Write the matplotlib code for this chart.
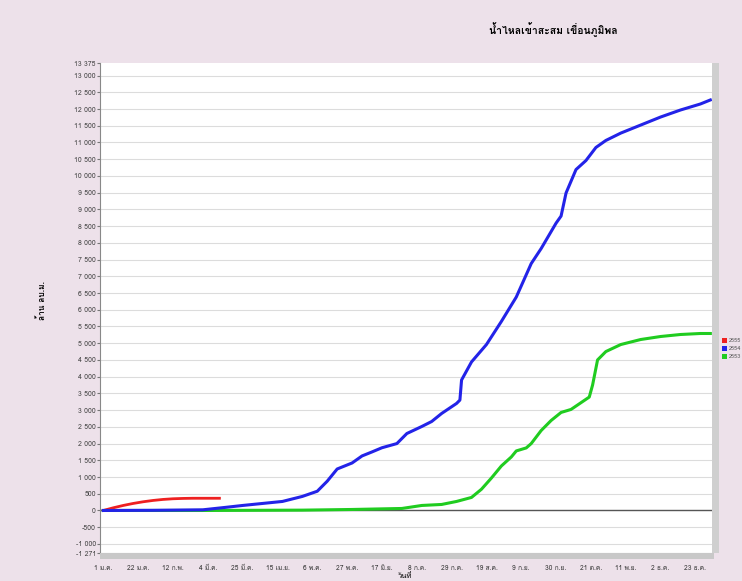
import matplotlib
matplotlib.use("Agg")
import matplotlib.pyplot as plt
from matplotlib import font_manager
from matplotlib.ft2font import FT2Font
from matplotlib.patches import Rectangle

# ---- data ----
title = "น้ำไหลเข้าสะสม เขื่อนภูมิพล"
ylabel = "ล้าน ลบ.ม."
xlabel = "วันที่"
series_names = ["2555", "2554", "2553"]

tick_days = [0, 21, 42, 63, 84, 105, 126, 147, 168, 189, 210, 231, 252, 273, 294, 315, 336, 357]
tick_labels = ["1 ม.ค.", "22 ม.ค.", "12 ก.พ.", "4 มี.ค.", "25 มี.ค.", "15 เม.ย.", "6 พ.ค.", "27 พ.ค.",
               "17 มิ.ย.", "8 ก.ค.", "29 ก.ค.", "19 ส.ค.", "9 ก.ย.", "30 ก.ย.", "21 ต.ค.", "11 พ.ย.",
               "2 ธ.ค.", "23 ธ.ค."]

red_days = [0, 6, 12, 18, 24, 30, 36, 42, 48, 54, 60, 70]
red_vals = [0, 80, 150, 210, 260, 300, 330, 350, 360, 365, 365, 365]

blue_days = [0, 30, 60, 75, 84, 96, 108, 120, 129, 135, 141, 150, 156, 162, 168, 177, 183, 192,
             198, 204, 213, 215, 216, 222, 231, 240, 249, 258, 264, 273, 276, 279, 285, 291, 297,
             303, 312, 324, 336, 348, 360, 366]
blue_vals = [0, 5, 20, 100, 150, 210, 270, 420, 575, 875, 1240, 1420, 1630, 1750, 1875, 2000, 2300,
             2510, 2660, 2900, 3200, 3300, 3900, 4440, 4960, 5650, 6380, 7380, 7830, 8590, 8800, 9490,
             10190, 10460, 10850, 11060, 11280, 11520, 11760, 11970, 12150, 12270]

green_days = [0, 60, 120, 150, 180, 192, 204, 213, 222, 228, 234, 240, 246, 249, 255, 258, 264, 270,
              276, 282, 293, 295, 298, 303, 312, 324, 336, 348, 360, 366]
green_vals = [0, 0, 10, 30, 60, 150, 180, 270, 390, 635, 970, 1330, 1600, 1780, 1870, 2000, 2390,
              2690, 2930, 3020, 3390, 3750, 4500, 4750, 4960, 5110, 5200, 5260, 5290, 5290]

y_ticks = [-1271, -1000, -500, 0, 500, 1000, 1500, 2000, 2500, 3000, 3500, 4000, 4500, 5000, 5500,
           6000, 6500, 7000, 7500, 8000, 8500, 9000, 9500, 10000, 10500, 11000, 11500, 12000, 12500,
           13000, 13375]

# ---- fonts: prefer a Tahoma-like Thai font ----
thai_fams = []
for f in font_manager.fontManager.ttflist:
    try:
        ft = FT2Font(f.fname)
        if ft.get_char_index(0x0E01) != 0 and f.name not in thai_fams:
            thai_fams.append(f.name)
    except Exception:
        pass
pick = [n for n in ["Loma", "Tlwg Typo", "Garuda", "Noto Sans Thai"] if n in thai_fams]
fams = (pick[:1] or thai_fams[:1]) + ["DejaVu Sans"]
plt.rcParams["font.family"] = fams

bg = "#ede1ea"
fig = plt.figure(figsize=(7.42, 5.81), dpi=100, facecolor=bg)
ax = fig.add_axes([100 / 742, 1 - 553 / 581, 612 / 742, 490 / 581])
ax.set_facecolor("white")

for v in range(-1000, 13500, 500):
    ax.axhline(v, color="#dcdcdc", lw=0.8, zorder=0)
ax.axhline(0, color="#555555", lw=1.0, zorder=1)

ax.plot(red_days, red_vals, color="#ee2020", lw=2.0, zorder=3, label=series_names[0])
ax.plot(blue_days, blue_vals, color="#2323e8", lw=2.2, zorder=3, label=series_names[1])
ax.plot(green_days, green_vals, color="#20cc20", lw=2.2, zorder=2, label=series_names[2])

ax.set_xlim(-2, 367)
ax.set_ylim(-1271, 13375)
ax.set_xticks(tick_days)
ax.set_xticklabels(tick_labels, fontsize=4.8, color="#333333")
ax.set_yticks(y_ticks)
ax.set_yticklabels([f"{v:,}".replace(",", " ") for v in y_ticks], fontsize=5, color="#444444")
ax.tick_params(axis="x", length=2, pad=7, colors="#777777", labelcolor="#333333")
ax.tick_params(axis="y", length=2, pad=1, colors="#777777", labelcolor="#444444")
for s in ["top", "right"]:
    ax.spines[s].set_visible(False)
ax.spines["left"].set_color("#888888")
ax.spines["bottom"].set_color("#aaaaaa")

# scrollbar-like gray bands
fig.patches.append(Rectangle((100 / 742, 1 - 559 / 581), 614 / 742, 6 / 581,
                             transform=fig.transFigure, facecolor="#c8c8c8", edgecolor="none"))
fig.patches.append(Rectangle((712 / 742, 1 - 553 / 581), 7 / 742, 490 / 581,
                             transform=fig.transFigure, facecolor="#cfcfcf", edgecolor="none"))

fig.text(553 / 742, 1 - 30 / 581, title, fontsize=7.5, fontweight="bold", ha="center", va="center")
fig.text(42 / 742, 1 - 300 / 581, ylabel, fontsize=6, fontweight="bold", rotation=90,
         ha="center", va="center")
fig.text(405 / 742, 1 - 576 / 581, xlabel, fontsize=5.5, ha="center", va="center")

colors = ["#ee2020", "#2323e8", "#20cc20"]
for i, (c, n) in enumerate(zip(colors, series_names)):
    yy = 1 - (340 + i * 8) / 581
    fig.patches.append(Rectangle((722 / 742, yy - 2.5 / 581), 5 / 742, 5 / 581,
                                 transform=fig.transFigure, facecolor=c, edgecolor="none"))
    fig.text(728.5 / 742, yy, n, fontsize=4, color="#555555", va="center", ha="left")

fig.savefig("out.png", dpi=100, facecolor=bg)
